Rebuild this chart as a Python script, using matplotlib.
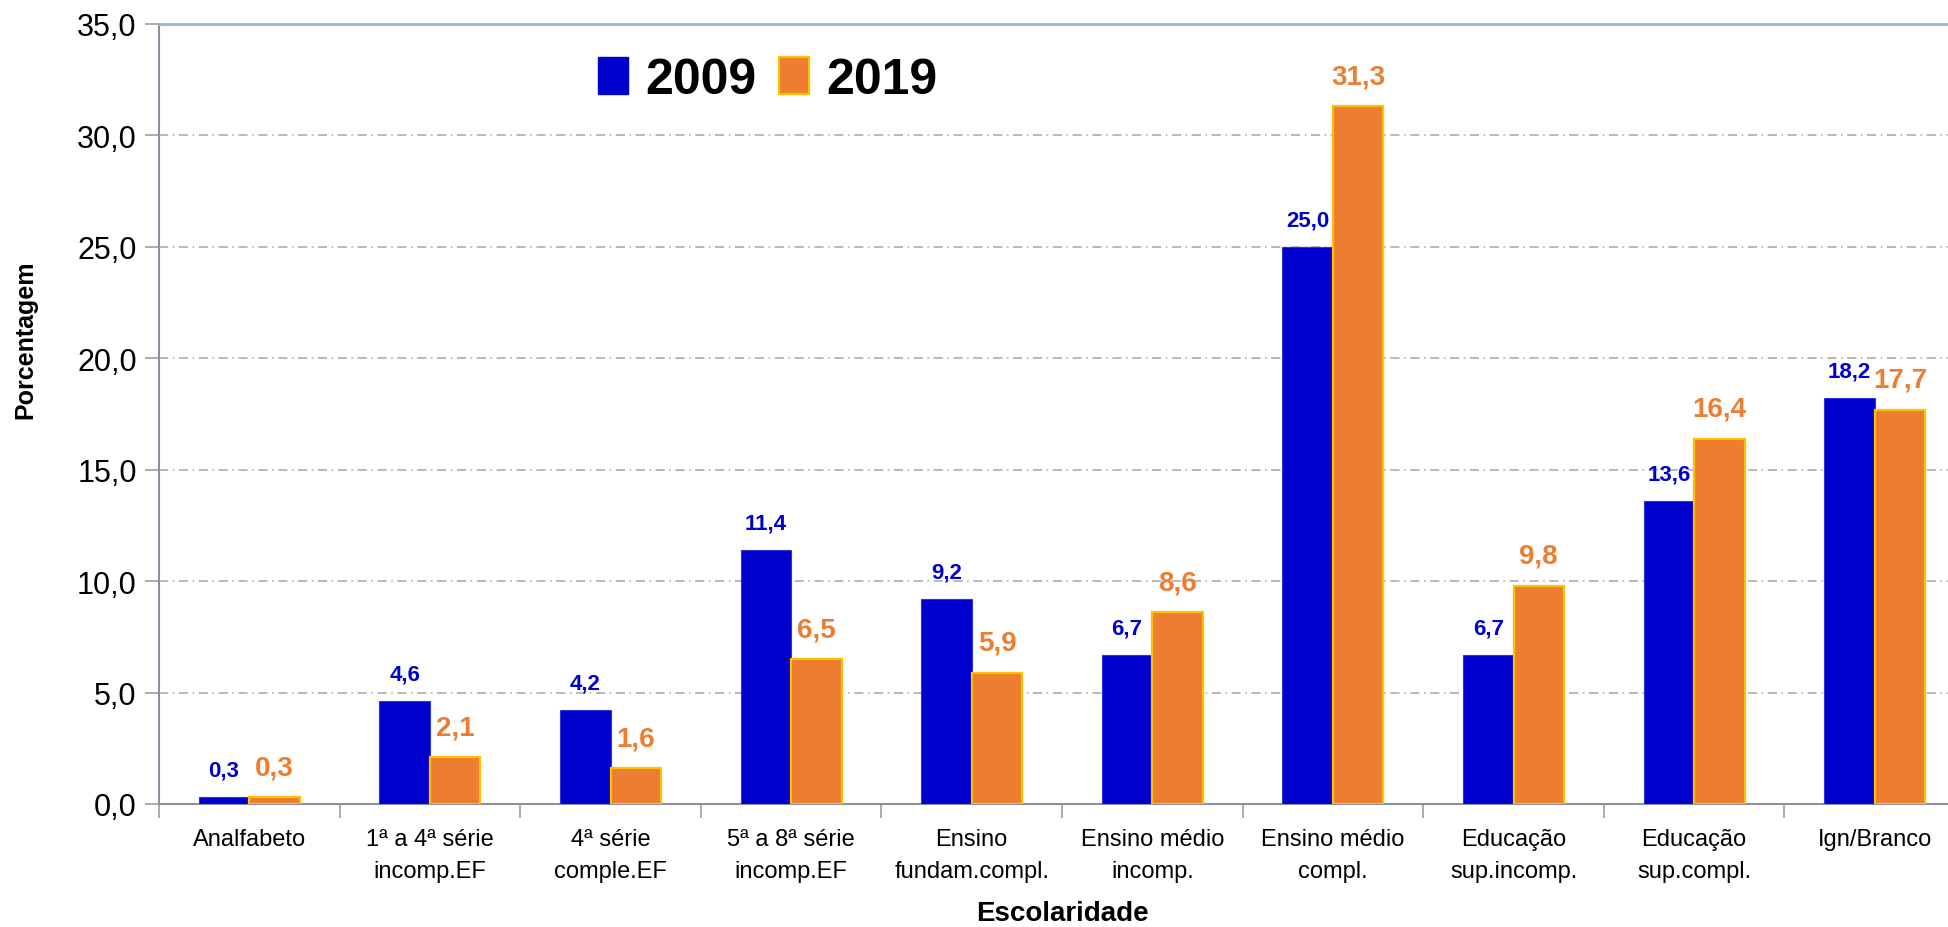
import numpy as np
import matplotlib
matplotlib.use("Agg")
import matplotlib.pyplot as plt
from matplotlib.patches import Patch

plt.rcParams['font.family'] = ['Liberation Sans Narrow', 'Liberation Sans', 'DejaVu Sans']

# ---------------- DATA ----------------
categorias = ["Analfabeto", "1ª a 4ª série\nincomp.EF", "4ª série\ncomple.EF",
              "5ª a 8ª série\nincomp.EF", "Ensino\nfundam.compl.", "Ensino médio\nincomp.",
              "Ensino médio\ncompl.", "Educação\nsup.incomp.", "Educação\nsup.compl.",
              "Ign/Branco"]
v2009 = [0.3, 4.6, 4.2, 11.4, 9.2, 6.7, 25.0, 6.7, 13.6, 18.2]
v2019 = [0.3, 2.1, 1.6, 6.5, 5.9, 8.6, 31.3, 9.8, 16.4, 17.7]
yticks = [0, 5, 10, 15, 20, 25, 30, 35]

azul = "#0000CC"
laranja = "#ED7D31"
dourado = "#FFC000"

def br(v):
    return f"{v:.1f}".replace(".", ",")

# ---------------- FIGURE ----------------
fig = plt.figure(figsize=(19.48, 9.28), dpi=100)
ax = fig.add_axes([159 / 1948, 1 - 805 / 928, (1965 - 159) / 1948, (805 - 25) / 928])

x = np.arange(len(categorias))
w = 0.28
b1 = ax.bar(x - w / 2, v2009, w, color=azul, edgecolor="#3333DD", linewidth=0.8, zorder=3)
b2 = ax.bar(x + w / 2, v2019, w, color=laranja, edgecolor=dourado, linewidth=1.6, zorder=3)

for rect, v in zip(b1, v2009):
    ax.annotate(br(v), (rect.get_x() + rect.get_width() / 2, v), xytext=(0, 12),
                textcoords="offset points", ha="center", va="bottom",
                color=azul, fontsize=16, fontweight="bold")
for rect, v in zip(b2, v2019):
    ax.annotate(br(v), (rect.get_x() + rect.get_width() / 2, v), xytext=(0, 12),
                textcoords="offset points", ha="center", va="bottom",
                color=laranja, fontsize=20, fontweight="bold")

ax.set_xlim(-0.5, len(categorias) - 0.5)
ax.set_ylim(0, 35)
ax.set_yticks(yticks)
ax.set_yticklabels([br(t) for t in yticks], fontsize=22)
ax.set_xticks(x)
ax.set_xticklabels(categorias, fontsize=17, linespacing=1.6)
ax.set_xticks(np.arange(-0.5, len(categorias), 1), minor=True)
ax.tick_params(axis="x", which="major", length=0, pad=17)
ax.tick_params(axis="x", which="minor", length=10, color="#A0A0A0", width=1.2)
ax.tick_params(axis="y", length=10, color="#A0A0A0", width=1.2, pad=6)

ax.grid(axis="y", color="#A6A6A6", linestyle=(0, (6, 3, 1, 3)), linewidth=1.1, zorder=0)
ax.set_axisbelow(True)

for s in ["left", "bottom"]:
    ax.spines[s].set_color("#8C90A0")
    ax.spines[s].set_linewidth(1.5)
ax.spines["top"].set_color("#9BB1E3")
ax.spines["top"].set_linewidth(2)
ax.spines["right"].set_visible(False)

fig.text(25 / 1948, 1 - 340 / 928, "Porcentagem", rotation=90, ha="center", va="center",
         fontsize=18, fontweight="bold")
fig.text(1062 / 1948, 1 - 914 / 928, "Escolaridade", ha="center", va="center",
         fontsize=20, fontweight="bold")

handles = [Patch(facecolor=azul, edgecolor=azul), Patch(facecolor=laranja, edgecolor=dourado, linewidth=1.6)]
leg = ax.legend(handles, ["2009", "2019"], loc="center", bbox_to_anchor=(0.337, 0.928),
                ncol=2, frameon=False, prop={"size": 36, "weight": "bold"},
                handlelength=0.6, handleheight=0.75, handletextpad=0.35, columnspacing=0.45)

fig.savefig("out.png", dpi=100)
